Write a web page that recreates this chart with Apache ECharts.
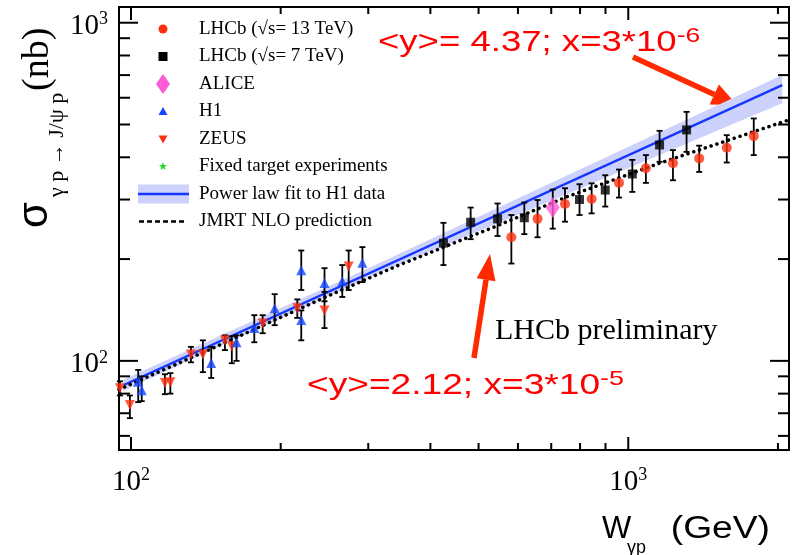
<!DOCTYPE html>
<html>
<head>
<meta charset="utf-8">
<script src="https://cdn.jsdelivr.net/npm/echarts@6/dist/echarts.min.js"></script>
<style>
  html, body { margin: 0; padding: 0; background: #fff; }
  #main { width: 792px; height: 555px; }
</style>
</head>
<body>
<div id="main"></div>
<script>
// LHCb sqrt(s)=13 TeV : W (GeV), sigma (nb), error band low / high
const lhcb13W  = [582, 657, 746, 844, 958, 1085, 1230, 1389, 1578, 1788];
const lhcb13S  = [232, 263, 291, 301, 336, 371, 384, 397, 427, 462];
const lhcb13Lo = [194, 232, 258, 273, 304, 336, 342, 362, 386, 406];
const lhcb13Hi = [270, 299, 324, 335, 368, 406, 420, 433, 465, 521];
// LHCb sqrt(s)=7 TeV
const lhcb7W  = [425, 482, 546, 618, 798, 899, 1019, 1156, 1310];
const lhcb7S  = [223, 257, 263, 265, 300, 320, 357, 435, 482];
const lhcb7Lo = [192, 229, 234, 237, 270, 286, 316, 388, 415];
const lhcb7Hi = [256, 284, 292, 294, 333, 354, 393, 479, 545];
// ALICE
const aliceW  = [705];
const aliceS  = [284];
const aliceLo = [246];
const aliceHi = [321];
// H1
const h1W  = [103.4, 105.1, 145, 163, 177, 194.5, 220, 220, 245, 266, 292];
const h1S  = [86.7, 81.9, 98.5, 113.5, 125, 143, 185.5, 132, 170, 172, 195];
const h1Lo = [75.5, 76, 89, 100, 113.5, 127.5, 162, 115, 150, 154.5, 171];
const h1Hi = [94, 90, 110, 119, 136.5, 157.5, 212, 141, 188, 192, 217];
// ZEUS
const zeusW  = [95, 99.5, 117, 120, 132, 139.5, 154.5, 159.5, 184, 216, 245, 274];
const zeusS  = [83, 74, 86, 86.5, 104.5, 104.5, 115, 110.5, 129, 143, 141, 190];
const zeusLo = [79, 67.7, 79.7, 80, 99, 92.6, 107.6, 98.4, 120.7, 134, 125, 162];
const zeusHi = [87, 79, 91.3, 92, 110, 115, 119, 118.3, 136.5, 152, 160, 212];
// power law fit to H1 (end points) and its band
const fitW = [96.5, 2040];
const fitS = [84.7, 654];
const bandW  = [96.5, 300, 2040];
const bandLo = [81.5, 176, 578];
const bandHi = [88, 188, 700];
// JMRT NLO prediction
const jmrtW = [94.6, 150, 250, 346, 542, 750, 1155, 2105];
const jmrtS = [82.3, 111, 156, 192, 250, 305, 384, 516];
// axis ticks
const xMajor = [100, 1000];
const xMinor = [200, 300, 400, 500, 600, 700, 800, 900, 2000];
const yMajor = [100, 1000];
const yMinor = [60, 70, 80, 90, 200, 300, 400, 500, 600, 700, 800, 900];
// legend
const legendNames = ['LHCb (\u221As= 13 TeV)', 'LHCb (\u221As= 7 TeV)', 'ALICE', 'H1', 'ZEUS',
  'Fixed target experiments', 'Power law fit to H1 data', 'JMRT NLO prediction'];

const RED = '#ff3010', BLUE = '#1646ff', PINK = '#ff5ad8', GREEN = '#22dd22';
const FIT = '#1436ff', BAND = '#ccd2fb', ARROW = '#ff2a00', TRED = '#ff0000';
const SERIF = '"Liberation Serif", "DejaVu Serif", serif';
const SANS = '"Liberation Sans", Arial, sans-serif';

let myChart = echarts.init(document.getElementById('main'));

function pts(w, s) { return w.map((v, i) => [v, s[i]]); }

// 10^n labels
function powLabel(v) {
  let e = Math.log10(v);
  if (Math.abs(e - Math.round(e)) > 1e-6) return '';
  return '{b|10}{s|' + Math.round(e) + '}';
}
const labelRich = {
  b: { fontFamily: SERIF, fontSize: 29, lineHeight: 32, color: '#000' },
  s: { fontFamily: SERIF, fontSize: 18, lineHeight: 19, verticalAlign: 'top', color: '#000' }
};

function errSeries(w, lo, hi) {
  return {
    type: 'custom', z: 3,
    data: w.map((v, i) => [v, lo[i], hi[i]]),
    encode: { x: 0, y: [1, 2] },
    renderItem: function(params, api) {
      let x = api.value(0);
      let a = api.coord([x, api.value(1)]);
      let b = api.coord([x, api.value(2)]);
      let c = 3;
      let st = { stroke: '#000', lineWidth: 1.8 };
      return { type: 'group', children: [
        { type: 'line', shape: { x1: a[0], y1: a[1], x2: b[0], y2: b[1] }, style: st },
        { type: 'line', shape: { x1: a[0] - c, y1: a[1], x2: a[0] + c, y2: a[1] }, style: st },
        { type: 'line', shape: { x1: b[0] - c, y1: b[1], x2: b[0] + c, y2: b[1] }, style: st }
      ] };
    }
  };
}

// ticks on all four sides of the frame
function tickSeries(isX) {
  let data = isX
    ? xMajor.map(v => [v, 100, 1]).concat(xMinor.map(v => [v, 100, 0]))
    : yMajor.map(v => [200, v, 1]).concat(yMinor.map(v => [200, v, 0]));
  return {
    type: 'custom', z: 10, clip: false, silent: true,
    data: data,
    encode: { x: 0, y: 1 },
    renderItem: function(params, api) {
      let cs = params.coordSys;
      let p = api.coord([api.value(0), api.value(1)]);
      let major = api.value(2) === 1;
      let st = { stroke: '#000', lineWidth: 2 };
      if (isX) {
        let len = major ? 13 : 7;
        return { type: 'group', children: [
          { type: 'line', shape: { x1: p[0], y1: cs.y + cs.height, x2: p[0], y2: cs.y + cs.height - len }, style: st },
          { type: 'line', shape: { x1: p[0], y1: cs.y, x2: p[0], y2: cs.y + len }, style: st }
        ] };
      }
      let len = major ? 19 : 11;
      return { type: 'group', children: [
        { type: 'line', shape: { x1: cs.x, y1: p[1], x2: cs.x + len, y2: p[1] }, style: st },
        { type: 'line', shape: { x1: cs.x + cs.width, y1: p[1], x2: cs.x + cs.width - len, y2: p[1] }, style: st }
      ] };
    }
  };
}

// legend drawn by hand
const legY0 = 29, legDy = 27.5, legSymX = 163, legTextX = 199;
function legendSymbol(i, y) {
  let x = legSymX;
  switch (i) {
    case 0: return { type: 'circle', shape: { cx: x, cy: y, r: 4.5 }, style: { fill: RED } };
    case 1: return { type: 'rect', shape: { x: x - 4.5, y: y - 4.5, width: 9, height: 9 }, style: { fill: '#000' } };
    case 2: return { type: 'polygon', shape: { points: [[x, y - 10], [x + 7, y], [x, y + 10], [x - 7, y]] }, style: { fill: PINK } };
    case 3: return { type: 'polygon', shape: { points: [[x, y - 4.5], [x + 4.5, y + 3.5], [x - 4.5, y + 3.5]] }, style: { fill: BLUE } };
    case 4: return { type: 'polygon', shape: { points: [[x, y + 4.5], [x + 4.5, y - 3.5], [x - 4.5, y - 3.5]] }, style: { fill: RED } };
    case 5: {
      let p = [];
      for (let k = 0; k < 10; k++) {
        let r = k % 2 ? 1.8 : 4.2, a = -Math.PI / 2 + k * Math.PI / 5;
        p.push([x + r * Math.cos(a), y + r * Math.sin(a)]);
      }
      return { type: 'polygon', shape: { points: p }, style: { fill: GREEN } };
    }
    case 6: return { type: 'group', children: [
      { type: 'rect', shape: { x: 138, y: y - 9.5, width: 51, height: 19 }, style: { fill: BAND } },
      { type: 'line', shape: { x1: 138, y1: y, x2: 189, y2: y }, style: { stroke: FIT, lineWidth: 2.5 } }
    ] };
    default: return { type: 'line', shape: { x1: 139, y1: y, x2: 187, y2: y },
      style: { stroke: '#000', lineWidth: 2.5, lineDash: [5, 3] } };
  }
}
let legendEls = [];
legendNames.forEach((name, i) => {
  let y = legY0 + i * legDy;
  legendEls.push(legendSymbol(i, y));
  legendEls.push({ type: 'text', x: legTextX, y: y,
    style: { text: name, font: '19px ' + SERIF, fill: '#000', align: 'left', verticalAlign: 'middle' } });
});

function arrow(tail, tip, w, headLen, headHalf) {
  let dx = tip[0] - tail[0], dy = tip[1] - tail[1], L = Math.hypot(dx, dy);
  let ux = dx / L, uy = dy / L, px = -uy, py = ux;
  let bx = tip[0] - ux * headLen, by = tip[1] - uy * headLen;
  return [
    { type: 'line', shape: { x1: tail[0], y1: tail[1], x2: bx, y2: by }, style: { stroke: ARROW, lineWidth: w } },
    { type: 'polygon', shape: { points: [tip, [bx + px * headHalf, by + py * headHalf], [bx - px * headHalf, by - py * headHalf]] },
      style: { fill: ARROW } }
  ];
}

const annRich = {
  m: { fontFamily: SANS, fontSize: 29, lineHeight: 34, fill: TRED },
  s: { fontFamily: SANS, fontSize: 21, lineHeight: 22, verticalAlign: 'top', fill: TRED }
};

let graphics = legendEls.concat(
  arrow([633, 57], [737, 105], 5.5, 25, 11),
  arrow([474, 358], [490, 254], 5.5, 26, 9.5),
  [
    { type: 'text', x: 378, y: 43, scaleX: 1.26,
      style: { text: '{m|<y>= 4.37; x=3*10}{s|-6}', rich: annRich, fill: TRED, align: 'left', verticalAlign: 'middle' } },
    { type: 'text', x: 307, y: 386, scaleX: 1.28,
      style: { text: '{m|<y>=2.12; x=3*10}{s|-5}', rich: annRich, fill: TRED, align: 'left', verticalAlign: 'middle' } },
    { type: 'text', x: 495, y: 331.5,
      style: { text: 'LHCb preliminary', font: '30px ' + SERIF, fill: '#000', align: 'left', verticalAlign: 'middle' } },
    // x axis title
    { type: 'text', x: 602, y: 529.5,
      style: { text: 'W', font: '31px ' + SANS, fill: '#000', align: 'left', verticalAlign: 'middle' } },
    { type: 'text', x: 627, y: 548,
      style: { text: '\u03B3p', font: '18px ' + SANS, fill: '#000', align: 'left', verticalAlign: 'middle' } },
    { type: 'text', x: 770, y: 529.5, scaleX: 1.2,
      style: { text: '(GeV)', font: '31px ' + SANS, fill: '#000', align: 'right', verticalAlign: 'middle' } },
    // y axis title, rotated
    { type: 'group', x: 35, y: 228, rotation: Math.PI / 2, children: [
      { type: 'text', x: 0, y: 0,
        style: { text: '\u03C3', font: '42px ' + SANS, fill: '#000', align: 'left', verticalAlign: 'middle' } },
      { type: 'text', x: 31, y: 22,
        style: { text: '\u03B3 p \u2192 J/\u03C8 p', font: '22px ' + SERIF, fill: '#000', align: 'left', verticalAlign: 'middle' } },
      { type: 'text', x: 137, y: 3,
        style: { text: '(nb)', font: '38px ' + SERIF, fill: '#000', align: 'left', verticalAlign: 'middle' } }
    ] }
  ]
);

option = {
  animation: false,
  backgroundColor: '#fff',
  grid: { left: 119, right: 2, top: 7, bottom: 105, show: true, borderColor: '#000', borderWidth: 2 },
  xAxis: {
    type: 'log', logBase: 10, min: 94.6, max: 2105,
    axisLine: { show: false }, axisTick: { show: false }, splitLine: { show: false },
    axisLabel: { margin: 16, interval: 0, formatter: powLabel, rich: labelRich }
  },
  yAxis: {
    type: 'log', logBase: 10, min: 54.5, max: 1113,
    axisLine: { show: false }, axisTick: { show: false }, splitLine: { show: false },
    axisLabel: { margin: 11, interval: 0, padding: [8, 0, 0, 0], formatter: powLabel, rich: labelRich }
  },
  series: [
    {
      type: 'custom', z: 1, silent: true,
      data: bandW.map((w, i) => [w, bandLo[i], bandHi[i]]),
      encode: { x: 0, y: [1, 2] },
      renderItem: function(params, api) {
        if (params.dataIndex !== 0) return null;
        let p = [];
        bandW.forEach((w, i) => p.push(api.coord([w, bandHi[i]])));
        for (let i = bandW.length - 1; i >= 0; i--) p.push(api.coord([bandW[i], bandLo[i]]));
        return { type: 'polygon', shape: { points: p }, style: { fill: BAND } };
      }
    },
    { type: 'line', z: 2, data: pts(fitW, fitS), symbol: 'none', lineStyle: { color: FIT, width: 2.4 } },
    { type: 'line', z: 2, data: pts(jmrtW, jmrtS), symbol: 'none',
      lineStyle: { color: '#000', width: 3.5, type: [0.1, 6], cap: 'round' } },
    errSeries(zeusW, zeusLo, zeusHi),
    errSeries(h1W, h1Lo, h1Hi),
    errSeries(lhcb7W, lhcb7Lo, lhcb7Hi),
    errSeries(lhcb13W, lhcb13Lo, lhcb13Hi),
    errSeries(aliceW, aliceLo, aliceHi),
    { type: 'scatter', z: 4, data: pts(zeusW, zeusS), symbol: 'triangle', symbolRotate: 180, symbolSize: 10, itemStyle: { color: RED } },
    { type: 'scatter', z: 4, data: pts(h1W, h1S), symbol: 'triangle', symbolSize: 10, itemStyle: { color: BLUE } },
    { type: 'scatter', z: 4, data: pts(lhcb7W, lhcb7S), symbol: 'rect', symbolSize: 9, itemStyle: { color: '#000' } },
    { type: 'scatter', z: 4, data: pts(lhcb13W, lhcb13S), symbol: 'circle', symbolSize: 10, itemStyle: { color: RED } },
    { type: 'scatter', z: 4, data: pts(aliceW, aliceS), symbol: 'diamond', symbolSize: [14, 21], itemStyle: { color: PINK } },
    tickSeries(true),
    tickSeries(false)
  ],
  graphic: graphics
};
myChart.setOption(option);
</script>
</body>
</html>
